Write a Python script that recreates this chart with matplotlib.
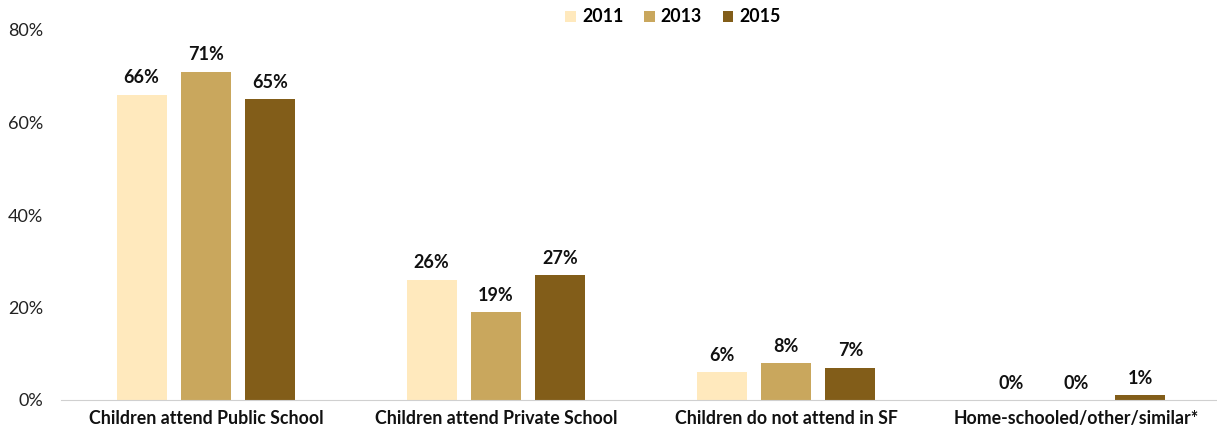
import numpy as np
import matplotlib.pyplot as plt

plt.rcParams['font.family'] = ['Lato', 'DejaVu Sans']

categories = ['Children attend Public School', 'Children attend Private School',
              'Children do not attend in SF', 'Home-schooled/other/similar*']
years = ['2011', '2013', '2015']
v2011 = [66, 26, 6, 0]
v2013 = [71, 19, 8, 0]
v2015 = [65, 27, 7, 1]
colors = ['#FFE9BD', '#C9A75D', '#825D19']

fig = plt.figure(figsize=(12.17, 4.28), dpi=100)
ax = fig.add_axes([61 / 1217, 28 / 428, 1160 / 1217, 370 / 428])

x = np.arange(len(categories))
width = 0.172
step = 0.222
for i, (vals, yr) in enumerate(zip([v2011, v2013, v2015], years)):
    pos = x + (i - 1) * step
    ax.bar(pos, vals, width, color=colors[i], label=yr, zorder=2)
    for p, v in zip(pos, vals):
        ax.annotate('%d%%' % v, (p, v), xytext=(0, 6), textcoords='offset points',
                    ha='center', va='bottom', fontsize=13, fontweight='bold', color='#111111')

ax.set_xlim(-0.5, 3.5)
ax.set_ylim(0, 80)
ax.set_yticks([0, 20, 40, 60, 80])
ax.set_yticklabels(['%d%%' % t for t in [0, 20, 40, 60, 80]], fontsize=13, color='#222222')
ax.set_xticks(x)
ax.set_xticklabels(categories, fontsize=12.8, fontweight='bold', color='#111111')
ax.tick_params(axis='both', length=0)
ax.tick_params(axis='y', pad=13)
ax.tick_params(axis='x', pad=7)
for s in ['top', 'right', 'left']:
    ax.spines[s].set_visible(False)
ax.spines['bottom'].set_color('#D0D0D0')

leg = fig.legend(loc='center', bbox_to_anchor=(673 / 1217, 1 - 17 / 428), ncol=3, frameon=False,
                 handlelength=0.6, handleheight=0.6, handletextpad=0.35, columnspacing=1.15,
                 prop={'weight': 'bold', 'size': 12.8})

fig.savefig('out.png', dpi=100)
